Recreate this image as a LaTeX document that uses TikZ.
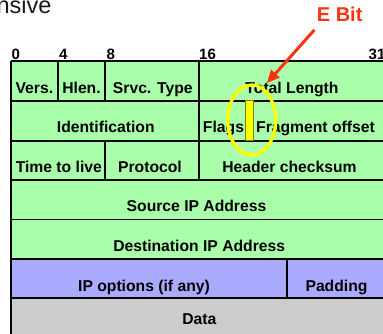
\documentclass[tikz,border=0pt]{standalone}
\usepackage{fontspec}
\setmainfont{Liberation Sans}
\usetikzlibrary{arrows.meta,shapes.geometric}
\definecolor{cellgreen}{RGB}{170,255,170}
\definecolor{cellblue}{RGB}{170,170,255}
\definecolor{cellgray}{RGB}{204,204,204}
\definecolor{ebitred}{RGB}{255,51,17}
\definecolor{hiyellow}{RGB}{255,255,0}
\definecolor{barline}{RGB}{128,128,0}
\begin{document}
\begin{tikzpicture}[x=1pt,y=-1pt,
  celltext/.style={anchor=base,inner sep=0pt,font=\fontsize{15.7}{16}\selectfont\bfseries},
  bitlabel/.style={anchor=base west,inner sep=0pt,font=\fontsize{15}{15}\selectfont\bfseries},
  gridline/.style={line width=1.4pt,black},
  outerline/.style={line width=1.8pt,black}]
\useasboundingbox (0,0) rectangle (383,333);
% fills
\fill[cellgreen] (11,61) rectangle (390,259);
\fill[cellblue] (11,259) rectangle (390,298);
\fill[cellgray] (11,298) rectangle (390,336);
% horizontal lines
\draw[outerline] (11,61) -- (390,61);
\foreach \y in {101,141,180,219.5,259,298}
  \draw[gridline] (11,\y) -- (390,\y);
% outer left line
\draw[outerline] (11,61) -- (11,336);
% vertical lines
\draw[gridline] (58,61) -- (58,101);
\draw[gridline] (105,61) -- (105,101);
\draw[gridline] (199,61) -- (199,141);
\draw[gridline] (105,141) -- (105,180);
\draw[gridline] (199,141) -- (199,180);
\draw[gridline] (287,259) -- (287,298);
% top text
\node[anchor=base east,inner sep=0pt,font=\fontsize{23.5}{24}\selectfont,text=black!90] (title) at (51.7,13.5) {nsive};
% bit labels
\node[bitlabel] (b0) at (11.5,59.5) {0};
\node[bitlabel] (b4) at (59,59.5) {4};
\node[bitlabel] (b8) at (106.3,59.5) {8};
\node[bitlabel] (b16) at (199,59.5) {16};
\node[bitlabel] (b31) at (368.5,59.5) {31};
% cell texts
\node[celltext] (vers) at (34.4,93.3) {Vers.};
\node[celltext] (hlen) at (81.5,93.3) {Hlen.};
\node[celltext] (srvc) at (152.8,93.3) {Srvc. Type};
\node[celltext] (tlen) at (292,93.3) {Total Length};
\node[celltext] (ident) at (105.8,132.7) {Identification};
\node[celltext] (flags) at (223.5,132.7) {Flags};
\node[celltext] (frag) at (315.5,132.7) {Fragment offset};
\node[celltext] (ttl) at (58.8,172.3) {Time to live};
\node[celltext] (proto) at (150,172.3) {Protocol};
\node[celltext] (hcs) at (289.5,172.3) {Header checksum};
\node[celltext] (src) at (196.5,211.7) {Source IP Address};
\node[celltext] (dst) at (199.2,251.7) {Destination IP Address};
\node[celltext] (opts) at (144,291.5) {IP options (if any)};
\node[celltext] (pad) at (336.5,291.5) {Padding};
\node[celltext] (data) at (199.3,324.3) {Data};
% E bit bar
\draw[fill=hiyellow,draw=barline,line width=0.8pt] (245.5,100) rectangle (253,140.5);
% highlight ellipse
\node[draw=hiyellow,line width=3.3pt,ellipse,inner sep=0pt,minimum width=48pt,minimum height=70pt] (ring) at (251.7,120) {};
% E Bit label and arrow
\node[anchor=base,inner sep=0pt,font=\fontsize{20}{20}\selectfont\bfseries,text=ebitred] (ebit) at (339.7,21.7) {E Bit};
\coordinate (astart) at (314.3,30);
\coordinate (aend) at (266.8,83.2);
\draw[ebitred,line width=3pt,-{Triangle[length=13pt,width=11pt]}] (astart) -- (aend);
\end{tikzpicture}
\end{document}
